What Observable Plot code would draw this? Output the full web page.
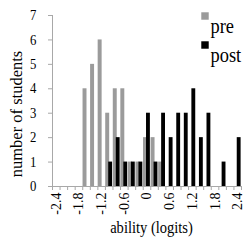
<!DOCTYPE html>
<html>
<head>
<meta charset="utf-8">
<script src="https://cdn.jsdelivr.net/npm/d3@7"></script>
<script src="https://cdn.jsdelivr.net/npm/@observablehq/plot@0.6"></script>
<style>
  html, body { margin: 0; padding: 0; background: #fff; }
  #chart { width: 250px; height: 250px; }
  #chart svg, #chart svg text, #chart svg g { font-family: "Liberation Serif", "Times New Roman", Times, "DejaVu Serif", serif !important; }
</style>
</head>
<body>
<div id="chart"></div>
<script>
// ---- data ----
const cats = [-2.4,-2.2,-2.0,-1.8,-1.6,-1.4,-1.2,-1.0,-0.8,-0.6,-0.4,-0.2,0,0.2,0.4,0.6,0.8,1.0,1.2,1.4,1.6,1.8,2.0,2.2,2.4];
const pre  = [0,0,0,0,4,5,6,3,4,4,1,1,2,2,1,0,0,0,0,0,0,0,0,0,0];
const post = [0,0,0,0,0,0,0,1,2,1,1,1,3,1,3,2,3,3,4,2,3,0,1,0,2];
const series = ["pre", "post"];
const seriesColors = ["#9b9b9b", "#000000"];
const tickValues = [-2.4,-1.8,-1.2,-0.6,0,0.6,1.2,1.8,2.4];
const tickLabels = ["-2.4","-1.8","-1.2","-0.6","0","0.6","1.2","1.8","2.4"];
const yTicks = [0,1,2,3,4,5,6,7];
const xTitle = "ability (logits)";
const yTitle = "number of students";

const half = 0.1;
const serif = "'Liberation Serif', 'Times New Roman', Times, 'DejaVu Serif', serif";
const preRows = cats.map((c, i) => ({c, v: pre[i]})).filter(d => d.v > 0);
const postRows = cats.map((c, i) => ({c, v: post[i]})).filter(d => d.v > 0);
const bounds = [...cats.map(c => c - half), cats[cats.length - 1] + half];
const axisGray = "#a8a8a8";

const chart = Plot.plot({
  width: 250,
  height: 250,
  marginLeft: 52,
  marginRight: 9,
  marginTop: 15,
  marginBottom: 64,
  style: {background: "#fff", color: "#000"},
  x: {domain: [cats[0] - half, cats[cats.length - 1] + half], label: null},
  y: {domain: [0, 7], label: null},
  marks: [
    Plot.rectY(preRows, {x1: d => d.c - half, x2: d => d.c + half, y1: 0, y2: "v", fill: seriesColors[0], insetLeft: 0.3, insetRight: 3.3}),
    Plot.rectY(postRows, {x1: d => d.c - half, x2: d => d.c + half, y1: 0, y2: "v", fill: seriesColors[1], insetLeft: 3.3, insetRight: 0.4}),
    Plot.ruleX([cats[0] - half], {stroke: axisGray}),
    Plot.ruleY([0], {stroke: axisGray}),
    Plot.axisY(yTicks, {tickSize: 4, tickPadding: 12, stroke: axisGray, fill: "#000", fontSize: 14.5, label: null}),
    Plot.axisX(bounds, {tickSize: 4, tickFormat: () => "", stroke: axisGray, label: null}),
    Plot.axisX(tickValues, {tickSize: 0, tickPadding: 6, tickRotate: -90, tickFormat: v => tickLabels[tickValues.indexOf(v)], fontSize: 14, fill: "#000", label: null}),
    Plot.text([yTitle], {frameAnchor: "left", text: d => d, textAnchor: "middle", rotate: -90, dx: -36, dy: 13, fontSize: 16.5, fill: "#000"}),
    Plot.text([xTitle], {frameAnchor: "bottom", text: d => d, textAnchor: "middle", dx: 4.5, dy: 46, fontSize: 16.5, fill: "#000"}),
    Plot.dot([series[0]], {frameAnchor: "top-right", symbol: "square", r: 4.2, fill: seriesColors[0], dx: -36.5, dy: 0.5}),
    Plot.dot([series[1]], {frameAnchor: "top-right", symbol: "square", r: 4.2, fill: seriesColors[1], dx: -36.5, dy: 29.5}),
    Plot.text([series[0]], {frameAnchor: "top-right", text: d => d, textAnchor: "start", dx: -31, dy: 3.5, fontSize: 20, fill: "#000"}),
    Plot.text([series[1]], {frameAnchor: "top-right", text: d => d, textAnchor: "start", dx: -31, dy: 32.5, fontSize: 20, fill: "#000"})
  ]
});
chart.style.fontFamily = serif;
document.getElementById("chart").appendChild(chart);

// horizontal squeeze of non-rotated text to mimic the reference's aspect
chart.querySelectorAll("text").forEach(t => {
  t.style.fontFamily = serif;
  const tr = (t.getAttribute("transform") || "") + (t.parentNode.getAttribute("transform") || "");
  if (tr.includes("rotate")) return;
  const len = t.getComputedTextLength();
  if (len > 0) {
    const isLegend = series.includes(t.textContent);
    const len2 = isLegend ? Math.min(len * 0.92, 250 - 1 - (t.getBBox().x)) : len * 0.88;
    t.setAttribute("textLength", len2.toFixed(2));
    t.setAttribute("lengthAdjust", "spacingAndGlyphs");
  }
});
</script>
</body>
</html>
